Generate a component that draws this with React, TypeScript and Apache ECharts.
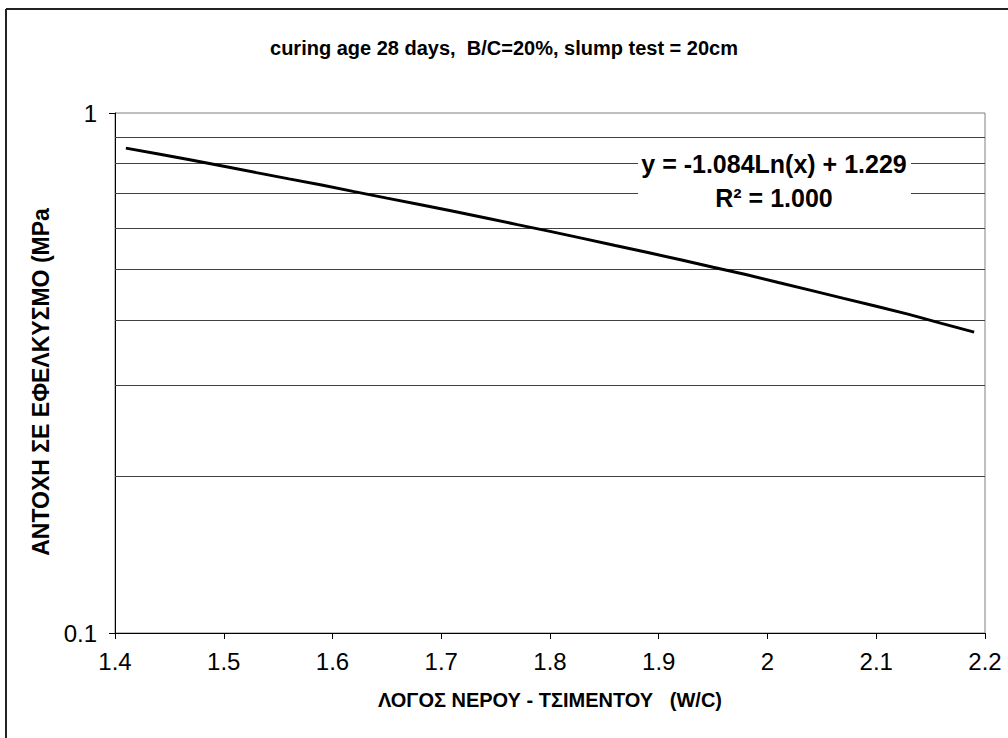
import React, { useEffect, useRef } from "react";
import * as echarts from "echarts";

const titleText = "curing age 28 days,  B/C=20%, slump test = 20cm";
const xAxisName = "ΛΟΓΟΣ ΝΕΡΟΥ - ΤΣΙΜΕΝΤΟΥ   (W/C)";
const yAxisName = "ΑΝΤΟΧΗ ΣΕ ΕΦΕΛΚΥΣΜΟ (MPa";
const equationLine1 = "y = -1.084Ln(x) + 1.229";
const equationLine2 = "R² = 1.000";

const wcRatio = [
  1.41, 1.44, 1.47, 1.5, 1.53, 1.56, 1.59, 1.62, 1.65, 1.68, 1.71, 1.74, 1.77, 1.8,
  1.83, 1.86, 1.89, 1.92, 1.95, 1.98, 2.01, 2.04, 2.07, 2.1, 2.13, 2.16, 2.19,
];
const strength = [
  0.856, 0.834, 0.812, 0.79, 0.768, 0.747, 0.727, 0.706, 0.686, 0.667, 0.648, 0.629,
  0.61, 0.592, 0.574, 0.556, 0.539, 0.522, 0.505, 0.489, 0.472, 0.456, 0.44, 0.425,
  0.41, 0.394, 0.379,
];
const gridValues = [0.2, 0.3, 0.4, 0.5, 0.6, 0.7, 0.8, 0.9];

export default function App() {
  const ref = useRef<HTMLDivElement>(null);
  useEffect(() => {
    if (!ref.current) return;
    const chart = echarts.init(ref.current, null, { renderer: "svg" });
    const font = "Arial, 'Liberation Sans', sans-serif";
    chart.setOption({
      animation: false,
      backgroundColor: "#ffffff",
      title: {
        text: titleText,
        left: "center",
        top: 33,
        textStyle: { fontFamily: font, fontSize: 20, fontWeight: "bold", color: "#000" },
      },
      grid: { left: 115, right: 23, top: 113, bottom: 105, show: true, borderColor: "#808080", borderWidth: 1 },
      xAxis: {
        type: "value",
        min: 1.4,
        max: 2.2,
        interval: 0.1,
        name: xAxisName,
        nameLocation: "middle",
        nameGap: 57,
        nameTextStyle: { fontFamily: font, fontSize: 20, fontWeight: "bold", color: "#000" },
        axisLine: { show: true, lineStyle: { color: "#000", width: 1 } },
        axisTick: { show: true, inside: false, length: 6, lineStyle: { color: "#000" } },
        axisLabel: { fontFamily: font, fontSize: 24, color: "#000", margin: 16 },
        splitLine: { show: false },
      },
      yAxis: {
        type: "log",
        logBase: 10,
        min: 0.1,
        max: 1,
        name: yAxisName,
        nameLocation: "middle",
        nameGap: 59,
        nameTextStyle: {
          fontFamily: font,
          fontSize: 23,
          fontWeight: "bold",
          color: "#000",
          padding: [0, 18, 0, 0],
        },
        axisLine: { show: true, lineStyle: { color: "#000", width: 1 } },
        axisTick: { show: true, length: 6, lineStyle: { color: "#000" } },
        axisLabel: { fontFamily: font, fontSize: 24, color: "#000", margin: 18 },
        splitLine: { show: false },
      },
      series: [
        {
          type: "line",
          data: wcRatio.map((x, i) => [x, strength[i]]),
          showSymbol: false,
          symbol: "none",
          lineStyle: { color: "#000", width: 3 },
          z: 3,
          markLine: {
            silent: true,
            symbol: ["none", "none"],
            label: { show: false },
            lineStyle: { color: "#404040", width: 1, type: "solid" },
            data: gridValues.map((v) => ({ yAxis: v })),
            z: 1,
          },
        },
      ],
      graphic: [
        { type: "line", shape: { x1: 6, y1: 9, x2: 1008, y2: 9 }, style: { stroke: "#222", lineWidth: 2 } },
        { type: "line", shape: { x1: 6, y1: 9, x2: 6, y2: 738 }, style: { stroke: "#222", lineWidth: 2 } },
        { type: "rect", shape: { x: 638, y: 143, width: 273, height: 78 }, style: { fill: "#fff" }, z: 10 },
        {
          type: "text",
          x: 774,
          y: 164,
          z: 11,
          style: {
            text: equationLine1,
            fontFamily: font,
            fontSize: 25,
            fontWeight: "bold",
            fill: "#000",
            align: "center",
            verticalAlign: "middle",
          },
        },
        {
          type: "text",
          x: 774,
          y: 198,
          z: 11,
          style: {
            text: equationLine2,
            fontFamily: font,
            fontSize: 25,
            fontWeight: "bold",
            fill: "#000",
            align: "center",
            verticalAlign: "middle",
          },
        },
      ],
    });
    return () => chart.dispose();
  }, []);
  return (
    <div
      ref={ref}
      style={{ position: "fixed", left: 0, top: 0, width: 1008, height: 738 }}
    />
  );
}
